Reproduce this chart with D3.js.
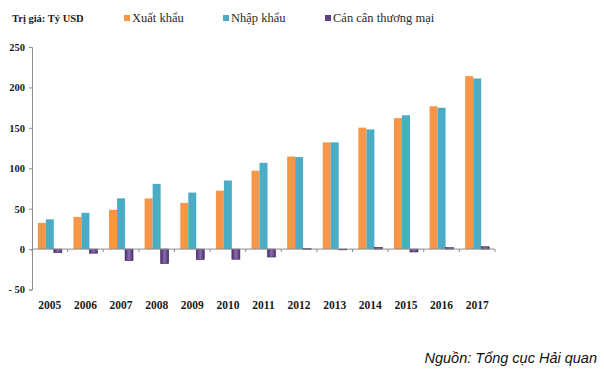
<!DOCTYPE html>
<html lang="vi">
<head>
<meta charset="utf-8">
<title>Xuất nhập khẩu 2005-2017</title>
<script src="https://cdn.jsdelivr.net/npm/d3@7"></script>
<style>
  body { margin: 0; background: #fff; }
  svg { display: block; }
</style>
</head>
<body>
<script>
// data (ty USD)
var years = ["2005","2006","2007","2008","2009","2010","2011","2012","2013","2014","2015","2016","2017"];
var xuatKhau = [32.4, 39.8, 48.6, 62.7, 57.1, 72.2, 96.9, 114.5, 132.0, 150.2, 162.0, 176.6, 214.0];
var nhapKhau = [36.8, 44.9, 62.8, 80.7, 69.9, 84.8, 106.7, 113.8, 132.0, 148.0, 165.6, 174.8, 211.1];
var canCan = [-4.5, -5.1, -14.2, -18.0, -12.9, -12.6, -9.8, 0.7, 0.0, 2.2, -3.6, 1.8, 2.9];
var seriesNames = ["Xuất khẩu", "Nhập khẩu", "Cán cân thương mại"];
var yTicks = [-50, 0, 50, 100, 150, 200, 250];

var w = 604, h = 373;
var colors = ["#f79646", "#4bacc6", "#5f4380"];
var serif = "'Liberation Serif', 'Times New Roman', serif";

var svg = d3.select("body").append("svg")
  .attr("width", w)
  .attr("height", h);

// purple bars have a lighter middle
var grad = svg.append("defs").append("linearGradient")
  .attr("id", "purp")
  .attr("x1", "0").attr("x2", "1").attr("y1", "0").attr("y2", "0");
grad.append("stop").attr("offset", "0%").attr("stop-color", "#4b2f6b");
grad.append("stop").attr("offset", "50%").attr("stop-color", "#8a6bb0");
grad.append("stop").attr("offset", "100%").attr("stop-color", "#4b2f6b");

var xScale = d3.scaleBand()
  .domain(years)
  .range([32, 495]);

var yScale = d3.scaleLinear()
  .domain([-50, 250])
  .range([289.5, 47]);

var inner = d3.scaleBand()
  .domain([0, 1, 2])
  .range([0, 24]);

var rows = years.map(function(y, i) {
  return { year: y, vals: [xuatKhau[i], nhapKhau[i], canCan[i]] };
});

// y axis
var yAxis = d3.axisLeft(yScale)
  .tickValues(yTicks)
  .tickSize(3)
  .tickFormat(function(d) { return d < 0 ? "- " + Math.abs(d) : d; });

var gy = svg.append("g")
  .attr("transform", "translate(32,0)")
  .call(yAxis);
gy.select(".domain").attr("stroke", "#8c8c8c");
gy.selectAll(".tick line").attr("stroke", "#8c8c8c");
gy.selectAll(".tick text")
  .attr("x", -7)
  .style("font-family", serif)
  .style("font-weight", "bold")
  .style("font-size", "10.5px")
  .attr("fill", "#1a1a1a");

// bars
var groups = svg.selectAll("g.grp")
  .data(rows)
  .enter().append("g")
  .attr("class", "grp")
  .attr("transform", function(d) {
    return "translate(" + (xScale(d.year) + xScale.bandwidth() / 2 - 12) + ",0)";
  });

groups.selectAll("rect")
  .data(function(d) { return d.vals; })
  .enter().append("rect")
  .attr("x", function(d, i) { return inner(i); })
  .attr("width", inner.bandwidth())
  .attr("y", function(d) { return yScale(Math.max(0, d)); })
  .attr("height", function(d) {
    var hh = Math.abs(yScale(d) - yScale(0));
    return Math.max(hh, 0.8);
  })
  .attr("fill", function(d, i) { return i == 2 ? "url(#purp)" : colors[i]; })
  .attr("stroke", function(d, i) { return i == 2 ? "#3f2a5c" : "none"; })
  .attr("stroke-width", 0.6);

// zero line with small ticks at band edges
var xAxis = d3.axisBottom(xScale)
  .tickSize(0)
  .tickFormat(function(d) { return d; });

svg.append("line")
  .attr("x1", 32).attr("x2", 495)
  .attr("y1", yScale(0)).attr("y2", yScale(0))
  .attr("stroke", "#8c8c8c");

svg.selectAll("line.xt")
  .data(years.concat(["end"]))
  .enter().append("line")
  .attr("class", "xt")
  .attr("x1", function(d, i) { return 32 + i * xScale.step(); })
  .attr("x2", function(d, i) { return 32 + i * xScale.step(); })
  .attr("y1", yScale(0))
  .attr("y2", yScale(0) + 3)
  .attr("stroke", "#8c8c8c");

var gx = svg.append("g")
  .attr("transform", "translate(0,298)")
  .call(xAxis);
gx.select(".domain").remove();
gx.selectAll(".tick text")
  .style("font-family", serif)
  .style("font-weight", "bold")
  .style("font-size", "11.5px")
  .attr("fill", "#1a1a1a");

// unit label
svg.append("text")
  .attr("x", 12).attr("y", 22)
  .style("font-family", serif)
  .style("font-weight", "bold")
  .style("font-size", "10.5px")
  .attr("fill", "#1a1a1a")
  .text("Trị giá: Tỷ USD");

// legend
var legX = [124, 223, 325];
var leg = svg.selectAll("g.leg")
  .data(seriesNames)
  .enter().append("g")
  .attr("class", "leg")
  .attr("transform", function(d, i) { return "translate(" + legX[i] + ",0)"; });

leg.append("rect")
  .attr("x", 0).attr("y", 15)
  .attr("width", 6).attr("height", 6)
  .attr("fill", function(d, i) { return colors[i]; });

leg.append("text")
  .attr("x", 8).attr("y", 22)
  .style("font-family", serif)
  .style("font-size", "12.5px")
  .attr("fill", "#2a2a2a")
  .text(function(d) { return d; });

// source
svg.append("text")
  .attr("x", 597).attr("y", 363)
  .attr("text-anchor", "end")
  .style("font-family", "'Liberation Sans', Arial, sans-serif")
  .style("font-style", "italic")
  .style("font-size", "14.5px")
  .attr("fill", "#111")
  .text("Nguồn: Tổng cục Hải quan");
</script>
</body>
</html>
